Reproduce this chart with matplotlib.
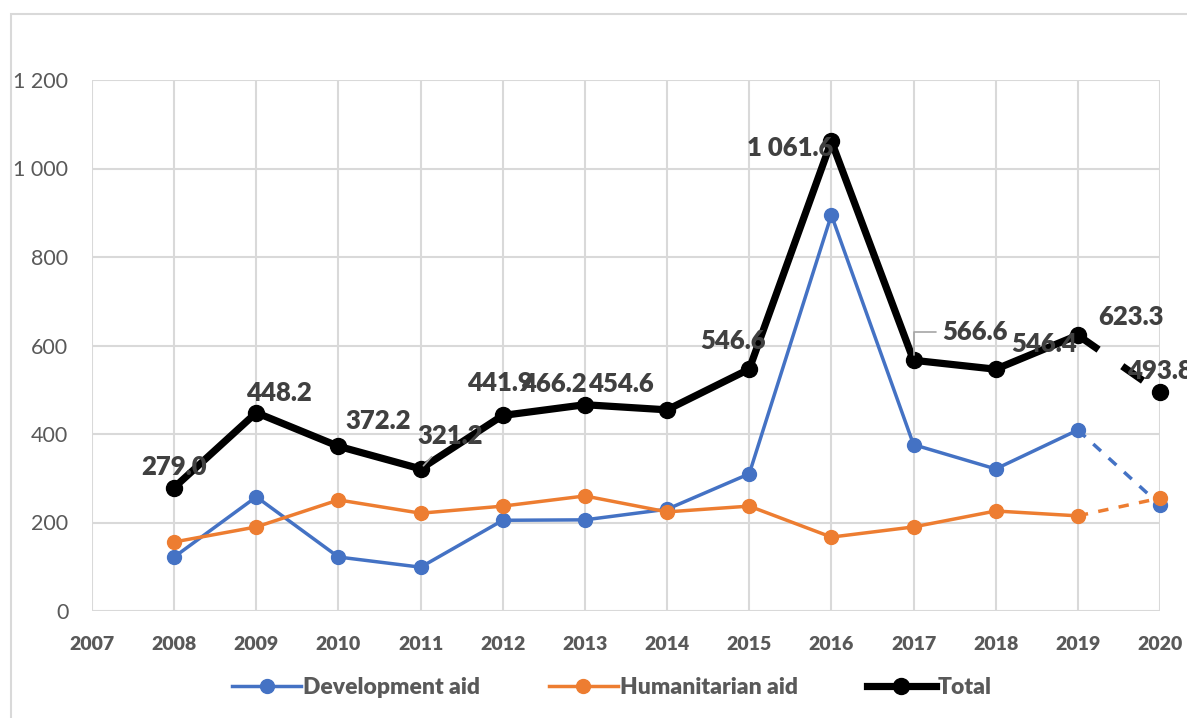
import matplotlib
matplotlib.use("Agg")
import matplotlib.pyplot as plt
from matplotlib.patches import Rectangle
from matplotlib.lines import Line2D

years = [2008, 2009, 2010, 2011, 2012, 2013, 2014, 2015, 2016, 2017, 2018, 2019, 2020]
development = [122, 258, 122, 99, 205, 206, 230, 310, 895, 376, 321, 409, 240]
humanitarian = [156, 190, 251, 221, 237, 260, 224, 237, 167, 190, 226, 215, 255]
total = [279.0, 448.2, 372.2, 321.2, 441.9, 466.2, 454.6, 546.6, 1061.6, 566.6, 546.4, 623.3, 493.8]
x_ticks = list(range(2007, 2021))
y_ticks = [0, 200, 400, 600, 800, 1000, 1200]
series_names = ["Development aid", "Humanitarian aid", "Total"]

# label offsets (pixels) for total data labels
label_offsets = [(0, 21), (23, 20), (40, 25), (30, 33), (-3, 32), (-31, 21), (-46, 26),
                 (-16, 28), (-41, -7), (61, 28), (48, 25), (53, 18), (0, 21)]

BLUE = "#4472C4"
ORANGE = "#ED7D31"
GRID = "#D9D9D9"
TXT = "#595959"
LBL = "#404040"
FONT = "Lato"
HEAVY = "heavy"

plt.rcParams["font.family"] = [FONT, "DejaVu Sans"]

fig = plt.figure(figsize=(11.87, 7.18), dpi=100)
ax = fig.add_axes([92/1187, 1-611/718, (1160-92)/1187, (611-80)/718])

# outer border
fig.patches.append(Rectangle((11/1187, -0.05), 1.1, 1-14/718+0.05, transform=fig.transFigure,
                             fill=False, edgecolor=GRID, linewidth=1.5))

ax.set_xlim(2007, 2020)
ax.set_ylim(0, 1200)
ax.set_xticks(x_ticks)
ax.set_yticks(y_ticks)
ax.set_xticklabels([str(x) for x in x_ticks], fontsize=14, fontweight=HEAVY, color=TXT)
ax.set_yticklabels([f"{v:,}".replace(",", " ") for v in y_ticks], fontsize=15.5, color=TXT)
ax.tick_params(axis="both", length=0)
ax.tick_params(axis="x", pad=18)
ax.tick_params(axis="y", pad=17)
for lab in ax.get_yticklabels():
    lab.set_horizontalalignment("right")
ax.grid(True, color=GRID, linewidth=1.5)
ax.set_axisbelow(True)
for s in ax.spines.values():
    s.set_visible(False)

def draw(vals, color, lw, ms, z, dash):
    ax.plot(years[:-1], vals[:-1], color=color, linewidth=lw, marker="o", markersize=ms,
            zorder=z, clip_on=False, solid_capstyle="round")
    ax.plot(years[-2:], vals[-2:], color=color, linewidth=lw, dashes=dash, zorder=z, clip_on=False)
    ax.plot(years[-1:], vals[-1:], color=color, linestyle="none", marker="o", markersize=ms,
            zorder=z, clip_on=False)

draw(development, BLUE, 2.5, 10, 3, (3, 3))
draw(humanitarian, ORANGE, 2.5, 10, 4, (3, 3))
draw(total, "black", 5.2, 11.5, 5, (3.5, 4))

for i, (yr, v) in enumerate(zip(years, total)):
    dx, dy = label_offsets[i]
    txt = f"{v:,.1f}".replace(",", " ")
    kw = {}
    if yr == 2017:
        kw["arrowprops"] = dict(arrowstyle="-", color="#A6A6A6", lw=1.2,
                                connectionstyle="angle,angleA=0,angleB=90,rad=0",
                                shrinkA=2, shrinkB=4)
    elif yr == 2011:
        kw["arrowprops"] = dict(arrowstyle="-", color="#A6A6A6", lw=1.2, shrinkA=6, shrinkB=3)
    ax.annotate(txt, xy=(yr, v), xytext=(dx, dy), textcoords="offset pixels",
                ha="center", va="center", fontsize=18.5, fontweight=HEAVY, color=LBL,
                zorder=10, annotation_clip=False, **kw)

handles = [Line2D([], [], color=BLUE, lw=2.5, marker="o", markersize=10),
           Line2D([], [], color=ORANGE, lw=2.5, marker="o", markersize=10),
           Line2D([], [], color="black", lw=5.2, marker="o", markersize=11.5)]
leg = fig.legend(handles, series_names, loc="center", bbox_to_anchor=(612/1187, 1-688/718),
                 ncol=3, frameon=False, handlelength=3.0, columnspacing=3.0, handletextpad=0.1,
                 prop={"family": FONT, "weight": HEAVY, "size": 16.5})
for t in leg.get_texts():
    t.set_color(TXT)

fig.savefig("out.png", dpi=100)
